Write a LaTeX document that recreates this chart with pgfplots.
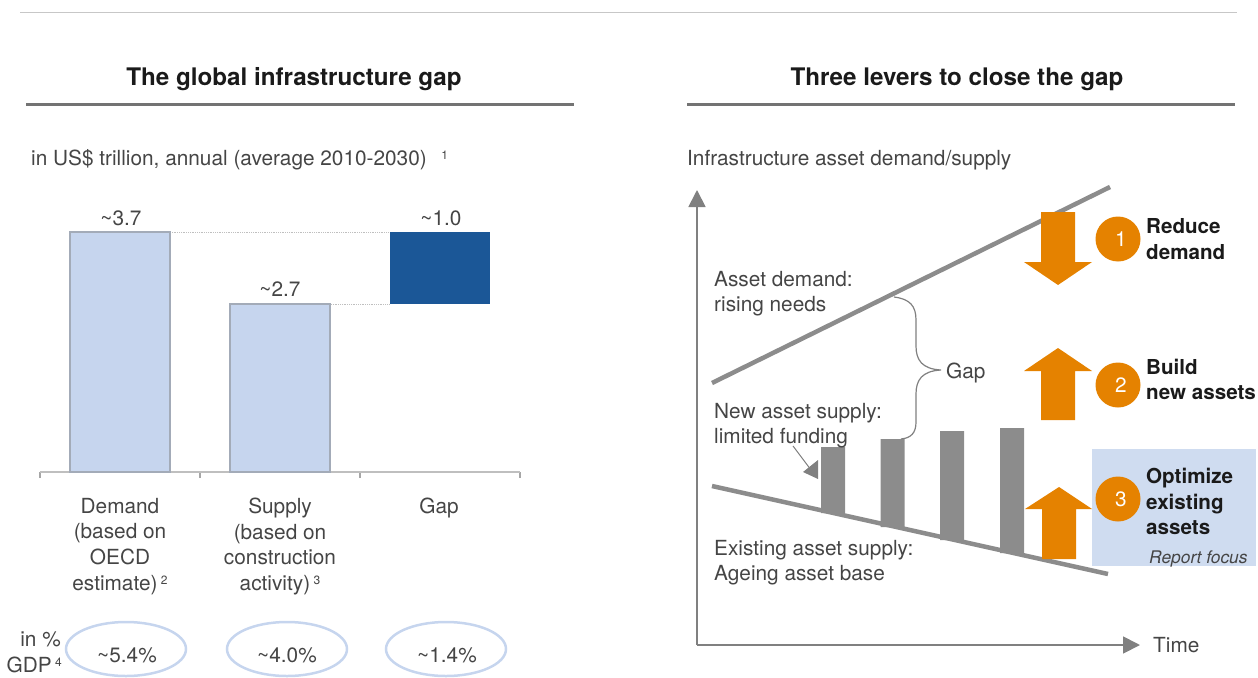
\documentclass[border=0pt]{standalone}
\usepackage{fontspec}
\setmainfont{TeX Gyre Heros}
\usepackage{pgfplots}
\pgfplotsset{compat=1.18}
\usetikzlibrary{arrows.meta}
\definecolor{txt}{HTML}{454545}
\definecolor{dark}{HTML}{1A1A1A}
\definecolor{lightblue}{HTML}{C6D5EE}
\definecolor{darkblue}{HTML}{1B5797}
\definecolor{barline}{HTML}{A3ABB8}
\definecolor{orange}{HTML}{E58200}
\definecolor{lgrey}{HTML}{8C8C8C}
\definecolor{boxblue}{HTML}{CFDCF0}
\newcommand{\body}{\fontsize{20.8}{25.6}\selectfont}
\newcommand{\lever}{\bfseries\fontsize{20.6}{25.6}\selectfont}
\newcommand{\sups}[1]{\,{\fontsize{12}{12}\selectfont\raisebox{6pt}{#1}}}
\begin{document}
\begin{tikzpicture}
\begin{scope}[x=1pt,y=-1pt,every node/.style={inner sep=0pt}]
\path[use as bounding box] (0,0) rectangle (1258,675);
\draw[line width=1pt,color=black!22] (20,12) -- (1237,12);
\draw[line width=2.5pt,color=black!55] (26,104.5) -- (574,104.5);
\draw[line width=2.5pt,color=black!55] (687,104.5) -- (1235,104.5);
\node[font=\bfseries\fontsize{24.2}{28}\selectfont,color=dark] at (294,79) {The global infrastructure gap};
\node[font=\bfseries\fontsize{24.2}{28}\selectfont,color=dark] at (957,79) {Three levers to close the gap};
\node[anchor=base west,color=txt,font=\body] at (31,165) {in US\$ trillion, annual (average 2010-2030)\hspace{11pt}\sups{1}};
\node[anchor=base west,color=txt,font=\body] at (687,165) {Infrastructure asset demand/supply};
% dotted connectors
\draw[densely dotted,line width=0.8pt,color=black!25] (170,232) -- (390,232);
\draw[densely dotted,line width=0.8pt,color=black!25] (331,304) -- (390,304);
% report focus box
\fill[boxblue] (1092,449) rectangle (1256,566);
\end{scope}

% left waterfall chart
\begin{axis}[
  at={(40pt,-472pt)}, anchor=south west,
  scale only axis, width=480pt, height=240pt,
  ybar stacked, bar width=100pt,
  xmin=-0.5, xmax=2.5, ymin=0, ymax=3.7,
  axis y line=none, axis x line*=bottom,
  xtick={-0.5,0.5,1.5,2.5}, xticklabels={}, ytick=\empty,
  tick align=outside, major tick length=6pt,
  x axis line style={color=black!25,line width=2pt},
  every tick/.style={color=black!35,line width=1.2pt},
  clip=false,
]
\addplot[draw=none,fill=none] coordinates {(0,0) (1,0) (2,2.59)};
\addplot[fill=lightblue,draw=barline,line width=1.2pt] coordinates {(0,3.7) (1,2.59) (2,0)};
\addplot[fill=darkblue,draw=none] coordinates {(0,0) (1,0) (2,1.11)};
\end{axis}

% right diagram: stock of new supply bars
\begin{axis}[
  at={(697pt,-645pt)}, anchor=south west,
  scale only axis, width=443pt, height=455pt,
  xmin=697, xmax=1140, ymin=0, ymax=455,
  hide axis, ybar stacked, bar width=24pt, clip=false,
]
\addplot[draw=none,fill=none] coordinates {(833,132) (892.5,118) (952,105) (1012,92)};
\addplot[fill=lgrey,draw=none] coordinates {(833,66) (892.5,88) (952,109) (1012,125)};
\end{axis}

% right diagram: axes and lines
\begin{axis}[
  at={(697pt,-645pt)}, anchor=south west,
  scale only axis, width=443pt, height=455pt,
  xmin=697, xmax=1140, ymin=0, ymax=455,
  axis lines=left, xtick=\empty, ytick=\empty,
  axis line style={color=black!50,line width=1.8pt,-{Triangle[length=17pt,width=17pt]}},
  clip=false,
]
\addplot[color=lgrey,line width=4.5pt] coordinates {(712,262) (1110,458)};
\addplot[color=lgrey,line width=4.5pt] coordinates {(712,159) (1108,71)};
\end{axis}

\begin{scope}[x=1pt,y=-1pt,every node/.style={inner sep=0pt}]
% value labels
\node[anchor=base,color=txt,font=\body] at (121,225) {\textasciitilde3.7};
\node[anchor=base,color=txt,font=\body] at (280,296) {\textasciitilde2.7};
\node[anchor=base,color=txt,font=\body] at (441,225) {\textasciitilde1.0};
% category labels
\node[anchor=north,align=center,color=txt,font=\body] at (120,498) {Demand\\(based on\\OECD\\estimate)\sups{2}};
\node[anchor=north,align=center,color=txt,font=\body] at (280,498) {Supply\\(based on\\construction\\activity)\sups{3}};
\node[anchor=north,align=center,color=txt,font=\body] at (439,498) {Gap};
% GDP row
\node[anchor=base east,color=txt,font=\body] at (61,646) {in \%};
\node[anchor=base east,color=txt,font=\body] at (62,672) {GDP\sups{4}};
\draw[lightblue,line width=2.5pt] (126,649) ellipse (60 and 27);
\draw[lightblue,line width=2.5pt] (287,649) ellipse (60 and 27);
\draw[lightblue,line width=2.5pt] (446,649) ellipse (60 and 27);
\node[anchor=base,color=txt,font=\body] at (127,662) {\textasciitilde5.4\%};
\node[anchor=base,color=txt,font=\body] at (287,662) {\textasciitilde4.0\%};
\node[anchor=base,color=txt,font=\body] at (447,662) {\textasciitilde1.4\%};
% orange arrows
\fill[orange] (1041,212) -- (1075,212) -- (1075,262) -- (1092,262) -- (1058,285) -- (1024,262) -- (1041,262) -- cycle;
\fill[orange] (1041,420) -- (1075,420) -- (1075,371) -- (1092,371) -- (1058,348) -- (1024,371) -- (1041,371) -- cycle;
\fill[orange] (1042,559) -- (1076,559) -- (1076,509) -- (1092,509) -- (1059,487) -- (1025,509) -- (1042,509) -- cycle;
% circles
\fill[orange] (1118,239) circle (22.5);
\fill[orange] (1118,385) circle (22.5);
\fill[orange] (1118,499) circle (22.5);
\node[color=white,font=\body] at (1121,239) {1};
\node[color=white,font=\body] at (1121,385) {2};
\node[color=white,font=\body] at (1121,499) {3};
% lever labels
\node[anchor=base west,color=dark,font=\lever] at (1146,233) {Reduce};
\node[anchor=base west,color=dark,font=\lever] at (1146,259) {demand};
\node[anchor=base west,color=dark,font=\lever] at (1146,374) {Build};
\node[anchor=base west,color=dark,font=\lever] at (1146,399) {new assets};
\node[anchor=base west,color=dark,font=\lever] at (1146,483) {Optimize};
\node[anchor=base west,color=dark,font=\lever] at (1146,509) {existing};
\node[anchor=base west,color=dark,font=\lever] at (1146,534) {assets};
\node[anchor=base west,color=txt,font=\itshape\fontsize{17.4}{20}\selectfont] at (1149,563) {Report focus};
% diagram labels
\node[anchor=base west,color=txt,font=\body] at (714,286) {Asset demand:};
\node[anchor=base west,color=txt,font=\body] at (714,311) {rising needs};
\node[anchor=base west,color=txt,font=\body] at (714,418) {New asset supply:};
\node[anchor=base west,color=txt,font=\body] at (714,443) {limited funding};
\node[anchor=base west,color=txt,font=\body] at (714,555) {Existing asset supply:};
\node[anchor=base west,color=txt,font=\body] at (714,580) {Ageing asset base};
\node[anchor=base west,color=txt,font=\body] at (946,378) {Gap};
\node[anchor=base west,color=txt,font=\body] at (1153,652) {Time};
% brace
\draw[color=black!50,line width=1.2pt] (894,297) .. controls (910,299) and (916,306) .. (916,320) -- (916,346) .. controls (916,360) and (922,369) .. (941,370) .. controls (922,371) and (916,380) .. (916,394) -- (916,422) .. controls (916,433) and (911,438) .. (901,439);
% pointer
\draw[color=black!50,line width=1pt] (793,446) -- (811,470);
\fill[color=black!50] (803,472) -- (818,460) -- (818,479) -- cycle;
\end{scope}
\end{tikzpicture}
\end{document}
